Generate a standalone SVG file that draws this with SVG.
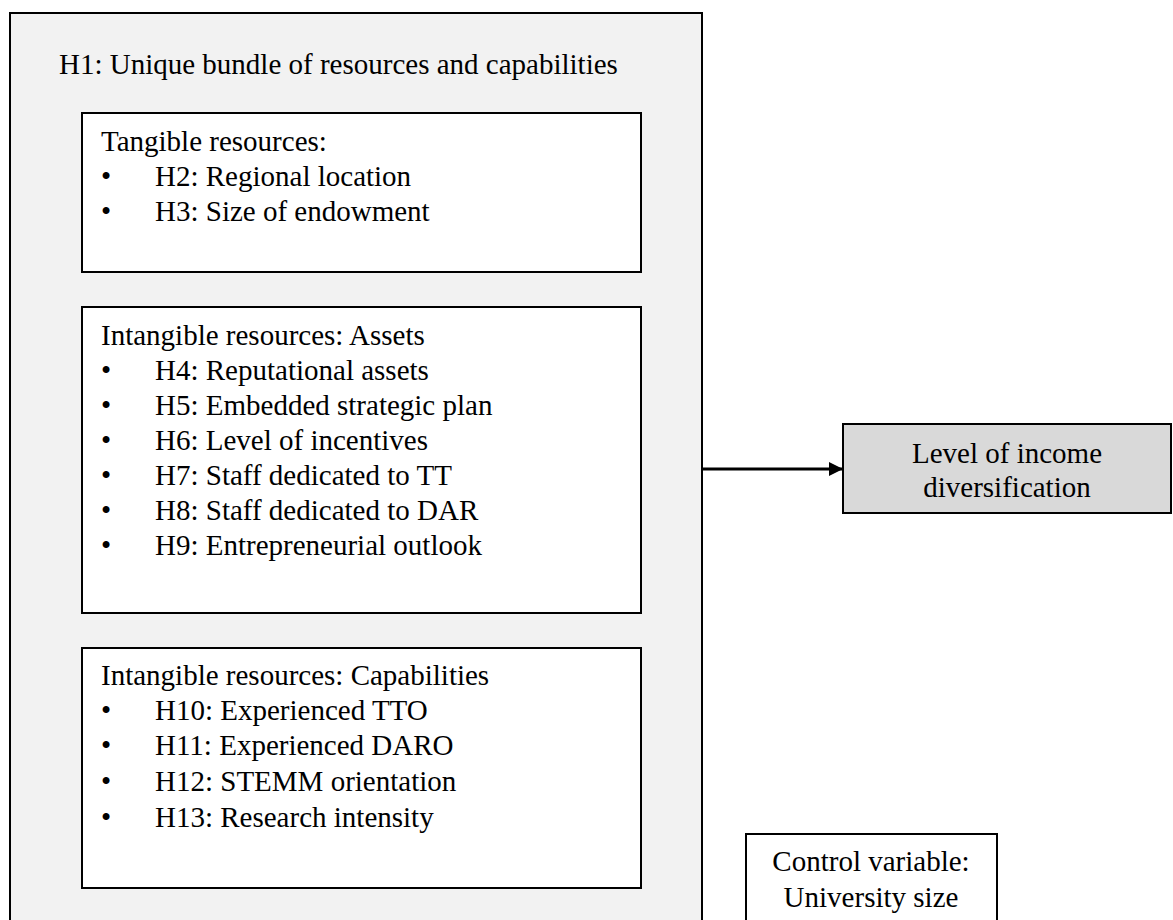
<svg xmlns="http://www.w3.org/2000/svg" width="1173" height="920" viewBox="0 0 1173 920">
  <style>
    .box { fill: #ffffff; stroke: #000000; stroke-width: 2; }
    .frame { fill: #f2f2f2; stroke: #000000; stroke-width: 2; }
    .out { fill: #d9d9d9; stroke: #000000; stroke-width: 2; }
    text { font-family: "Liberation Serif", "Times New Roman", serif; font-size: 29px; fill: #000000; }
    .c { text-anchor: middle; }
    .link { stroke: #000000; stroke-width: 3; fill: none; }
  </style>
  <defs>
    <marker id="arrow" markerWidth="14" markerHeight="14" refX="14" refY="7" orient="auto" markerUnits="userSpaceOnUse" viewBox="0 0 14 14">
      <path d="M0,0 L14,7 L0,14 z" fill="#000000"/>
    </marker>
  </defs>
  <rect x="0" y="0" width="1173" height="920" fill="#ffffff"/>

  <!-- H1 frame holding the three resource groups -->
  <g id="h1-frame">
    <rect class="frame" x="10" y="13" width="692" height="930"/>
    <text x="59" y="74">H1: Unique bundle of resources and capabilities</text>
  </g>

  <g id="tangible">
    <rect class="box" x="82" y="113" width="559" height="159"/>
    <text x="101" y="151">Tangible resources:</text>
    <text x="101" y="186">•</text><text x="155" y="186">H2: Regional location</text>
    <text x="101" y="221">•</text><text x="155" y="221">H3: Size of endowment</text>
  </g>

  <g id="assets">
    <rect class="box" x="82" y="307" width="559" height="306"/>
    <text x="101" y="345">Intangible resources: Assets</text>
    <text x="101" y="380">•</text><text x="155" y="380">H4: Reputational assets</text>
    <text x="101" y="415">•</text><text x="155" y="415">H5: Embedded strategic plan</text>
    <text x="101" y="450">•</text><text x="155" y="450">H6: Level of incentives</text>
    <text x="101" y="485">•</text><text x="155" y="485">H7: Staff dedicated to TT</text>
    <text x="101" y="520">•</text><text x="155" y="520">H8: Staff dedicated to DAR</text>
    <text x="101" y="555">•</text><text x="155" y="555">H9: Entrepreneurial outlook</text>
  </g>

  <g id="capabilities">
    <rect class="box" x="82" y="648" width="559" height="240"/>
    <text x="101" y="685">Intangible resources: Capabilities</text>
    <text x="101" y="720">•</text><text x="155" y="720">H10: Experienced TTO</text>
    <text x="101" y="755">•</text><text x="155" y="755">H11: Experienced DARO</text>
    <text x="101" y="791">•</text><text x="155" y="791">H12: STEMM orientation</text>
    <text x="101" y="827">•</text><text x="155" y="827">H13: Research intensity</text>
  </g>

  <g id="income-diversification">
    <rect class="out" x="843" y="424" width="328" height="89"/>
    <text class="c" x="1007" y="463">Level of income</text>
    <text class="c" x="1007" y="497">diversification</text>
  </g>

  <g id="control-variable">
    <rect class="box" x="746" y="834" width="251" height="100"/>
    <text class="c" x="871" y="871">Control variable:</text>
    <text class="c" x="871" y="907">University size</text>
  </g>

  <g id="connectors">
    <line class="link" x1="702" y1="469" x2="843" y2="469" marker-end="url(#arrow)"/>
  </g>
</svg>
